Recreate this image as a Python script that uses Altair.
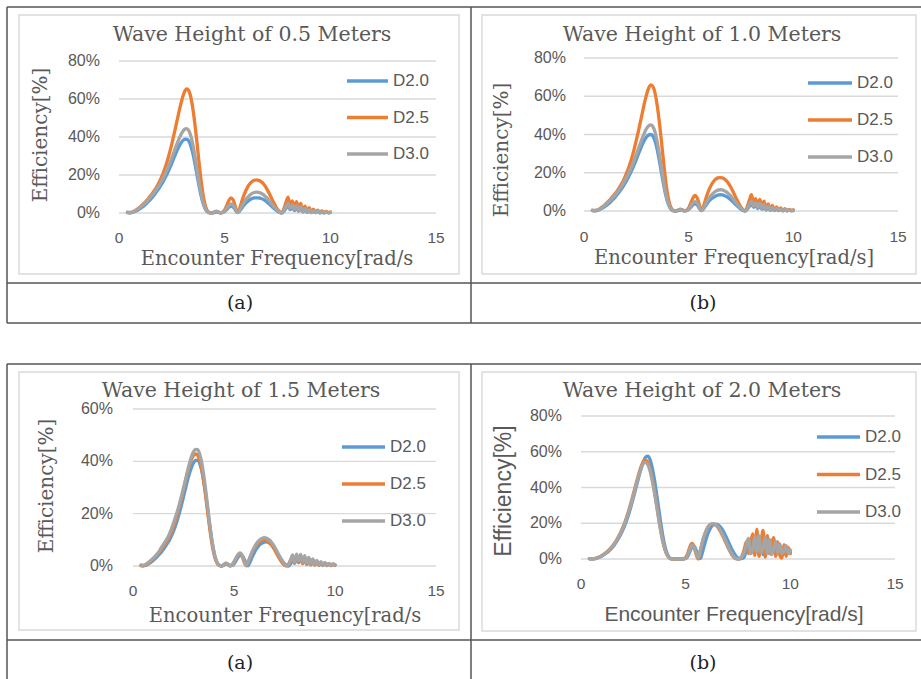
import altair as alt
import pandas as pd

# ---------------- data ----------------
SERIES = ["D2.0", "D2.5", "D3.0"]
COLORS = ["#5B9BD5", "#ED7D31", "#A5A5A5"]

FREQ = [0.4, 0.5, 0.6, 0.7, 0.8, 0.9, 1.0, 1.1, 1.2, 1.3,
        1.4, 1.5, 1.6, 1.7, 1.8, 1.9, 2.0, 2.1, 2.2, 2.3,
        2.4, 2.5, 2.6, 2.7, 2.8, 2.9, 3.0, 3.1, 3.2, 3.3,
        3.4, 3.5, 3.6, 3.7, 3.8, 3.9, 4.0, 4.1, 4.2, 4.3,
        4.4, 4.5, 4.6, 4.7, 4.8, 4.9, 5.0, 5.1, 5.2, 5.3,
        5.4, 5.5, 5.6, 5.7, 5.8, 5.9, 6.0, 6.1, 6.2, 6.3,
        6.4, 6.5, 6.6, 6.7, 6.8, 6.9, 7.0, 7.1, 7.2, 7.3,
        7.4, 7.5, 7.6, 7.7, 7.8, 7.9, 8.0, 8.1, 8.2, 8.3,
        8.4, 8.5, 8.6, 8.7, 8.8, 8.9, 9.0, 9.1, 9.2, 9.3,
        9.4, 9.5, 9.6, 9.7, 9.8, 9.9, 10.0]

# Wave height 0.5 m (efficiency, %)
H05_D20 = [0.2, 0.1, 0.2, 0.5, 1.0, 1.6, 2.3, 3.1, 4.0, 5.0,
           6.1, 7.3, 8.6, 10.0, 11.5, 13.1, 14.9, 16.8, 18.9, 21.2,
           23.7, 26.3, 29.0, 31.7, 34.2, 36.3, 37.9, 38.8, 38.9, 37.9,
           35.3, 31.1, 25.6, 19.5, 13.5, 8.3, 4.3, 1.7, 0.5, 0.1,
           0.0, 0.2, 0.5, 0.3, 0.1, 0.2, 0.8, 1.8, 3.0, 3.6,
           3.2, 1.6, 0.2, 0.9, 2.4, 3.9, 5.2, 6.2, 7.0, 7.6,
           7.9, 8.0, 8.0, 7.7, 7.3, 6.6, 5.8, 4.8, 3.8, 2.7,
           1.7, 0.9, 0.3, 0.0, 0.9, 2.4, 3.6, 1.8, 2.9, 1.3,
           2.7, 0.9, 2.2, 0.5, 1.6, 0.3, 1.2, 0.2, 0.9, 0.2,
           0.7, 0.1, 0.5, 0.1, 0.4, 0.1, 0.2]
H05_D25 = [0.3, 0.2, 0.3, 0.8, 1.5, 2.3, 3.2, 4.2, 5.3, 6.5,
           7.8, 9.2, 10.7, 12.3, 14.1, 16.2, 18.6, 21.3, 24.4, 28.0,
           32.0, 36.4, 41.2, 46.2, 51.3, 56.2, 60.5, 63.8, 65.3, 64.4,
           60.8, 54.5, 46.0, 36.0, 25.5, 15.8, 8.2, 3.3, 0.9, 0.1,
           0.0, 0.5, 0.9, 0.5, 0.1, 0.4, 1.6, 4.0, 6.6, 8.0,
           7.0, 3.6, 0.3, 2.2, 5.8, 9.0, 11.7, 13.9, 15.5, 16.6,
           17.2, 17.4, 17.2, 16.7, 15.8, 14.4, 12.6, 10.5, 8.2, 5.9,
           3.8, 2.0, 0.7, 0.1, 2.2, 5.6, 8.4, 3.8, 6.4, 2.8,
           6.0, 1.9, 5.0, 1.0, 3.6, 0.5, 2.8, 0.4, 2.0, 0.3,
           1.5, 0.2, 1.1, 0.2, 0.8, 0.3, 0.5]
H05_D30 = [0.4, 0.3, 0.4, 0.8, 1.4, 2.1, 2.9, 3.8, 4.8, 5.9,
           7.1, 8.4, 9.8, 11.3, 12.9, 14.7, 16.6, 18.7, 21.0, 23.5,
           26.2, 29.1, 32.1, 35.1, 38.0, 40.6, 42.6, 44.0, 44.4, 43.4,
           40.5, 35.7, 29.4, 22.3, 15.4, 9.4, 4.9, 2.0, 0.6, 0.1,
           0.0, 0.5, 1.0, 0.6, 0.1, 0.3, 1.0, 2.4, 4.0, 4.8,
           4.2, 2.1, 0.2, 1.2, 3.3, 5.3, 7.0, 8.4, 9.5, 10.3,
           10.8, 11.0, 10.9, 10.5, 9.9, 9.0, 7.9, 6.6, 5.1, 3.7,
           2.4, 1.3, 0.5, 0.1, 1.3, 3.4, 5.0, 2.4, 4.3, 1.8,
           4.0, 1.2, 3.3, 0.6, 2.4, 0.4, 1.8, 0.3, 1.3, 0.2,
           1.0, 0.1, 0.7, 0.1, 0.5, 0.2, 0.3]

# Wave height 1.0 m
H10_D20 = [0.2, 0.1, 0.2, 0.5, 1.0, 1.6, 2.4, 3.2, 4.1, 5.1,
           6.2, 7.4, 8.8, 10.2, 11.7, 13.4, 15.2, 17.2, 19.4, 21.8,
           24.3, 27.0, 29.8, 32.5, 35.1, 37.3, 38.9, 39.8, 40.0, 39.0,
           36.3, 32.0, 26.3, 20.0, 13.9, 8.5, 4.4, 1.8, 0.5, 0.1,
           0.0, 0.2, 0.5, 0.3, 0.1, 0.2, 0.8, 1.9, 3.1, 3.7,
           3.3, 1.6, 0.2, 1.0, 2.6, 4.1, 5.5, 6.5, 7.3, 7.9,
           8.3, 8.5, 8.4, 8.1, 7.6, 6.9, 6.0, 5.0, 3.9, 2.8,
           1.8, 0.9, 0.3, 0.0, 1.0, 2.5, 3.7, 1.9, 3.0, 1.3,
           2.8, 0.9, 2.3, 0.5, 1.7, 0.3, 1.3, 0.2, 1.0, 0.2,
           0.7, 0.1, 0.5, 0.1, 0.4, 0.1, 0.2]
H10_D25 = [0.3, 0.2, 0.3, 0.8, 1.5, 2.3, 3.3, 4.3, 5.4, 6.6,
           7.9, 9.3, 10.8, 12.5, 14.3, 16.4, 18.9, 21.6, 24.8, 28.4,
           32.5, 37.0, 41.8, 46.9, 52.0, 57.0, 61.3, 64.6, 66.0, 65.0,
           61.3, 55.0, 46.5, 36.4, 25.8, 16.0, 8.3, 3.4, 0.9, 0.1,
           0.0, 0.5, 0.9, 0.5, 0.1, 0.4, 1.7, 4.1, 6.7, 8.1,
           7.1, 3.6, 0.3, 2.2, 5.8, 9.1, 11.8, 14.0, 15.6, 16.7,
           17.3, 17.5, 17.3, 16.8, 15.9, 14.5, 12.7, 10.6, 8.3, 6.0,
           3.9, 2.0, 0.7, 0.1, 2.3, 5.7, 8.5, 3.9, 6.5, 2.9,
           6.1, 2.0, 5.1, 1.0, 3.7, 0.5, 2.9, 0.4, 2.1, 0.3,
           1.6, 0.2, 1.2, 0.2, 0.9, 0.3, 0.6]
H10_D30 = [0.4, 0.3, 0.4, 0.8, 1.4, 2.1, 3.0, 3.9, 4.9, 6.0,
           7.2, 8.5, 9.9, 11.5, 13.1, 14.9, 16.9, 19.0, 21.3, 23.9,
           26.6, 29.6, 32.6, 35.6, 38.5, 41.2, 43.3, 44.6, 45.0, 44.0,
           41.0, 36.1, 29.7, 22.5, 15.6, 9.5, 5.0, 2.0, 0.6, 0.1,
           0.0, 0.5, 1.0, 0.6, 0.1, 0.3, 1.0, 2.5, 4.1, 4.9,
           4.3, 2.2, 0.2, 1.2, 3.4, 5.4, 7.1, 8.5, 9.6, 10.4,
           10.9, 11.1, 11.0, 10.6, 10.0, 9.1, 8.0, 6.7, 5.2, 3.8,
           2.5, 1.3, 0.5, 0.1, 1.4, 3.5, 5.1, 2.5, 4.4, 1.9,
           4.1, 1.3, 3.4, 0.6, 2.5, 0.4, 1.9, 0.3, 1.4, 0.2,
           1.1, 0.1, 0.8, 0.1, 0.6, 0.2, 0.4]

# Wave height 1.5 m
H15_D20 = [0.1, 0.1, 0.2, 0.5, 1.0, 1.5, 2.1, 2.8, 3.6, 4.4,
           5.3, 6.3, 7.4, 8.6, 9.9, 11.4, 13.2, 15.3, 17.7, 20.4,
           23.3, 26.4, 29.6, 32.7, 35.5, 37.8, 39.5, 40.4, 40.5, 39.2,
           36.5, 32.4, 27.2, 21.3, 15.4, 10.0, 5.6, 2.6, 0.9, 0.2,
           0.0, 0.3, 0.8, 0.6, 0.1, 0.2, 0.8, 2.0, 3.3, 4.1,
           4.0, 2.8, 1.0, 0.1, 1.6, 3.4, 5.0, 6.4, 7.5, 8.3,
           8.8, 9.1, 9.2, 9.0, 8.5, 7.8, 6.8, 5.6, 4.3, 3.0,
           1.8, 0.9, 0.3, 0.0, 0.8, 2.8, 1.0, 3.4, 1.2, 3.4,
           0.9, 3.0, 0.6, 2.5, 0.4, 2.0, 0.3, 1.6, 0.3, 1.3,
           0.2, 1.0, 0.2, 0.8, 0.2, 0.6, 0.3]
H15_D25 = [0.2, 0.1, 0.3, 0.7, 1.3, 1.9, 2.6, 3.4, 4.3, 5.2,
           6.3, 7.4, 8.6, 9.8, 11.2, 12.9, 14.9, 17.3, 20.0, 22.9,
           26.0, 29.2, 32.5, 35.7, 38.5, 40.8, 42.3, 42.8, 42.3, 40.4,
           37.1, 32.4, 26.6, 20.3, 14.2, 8.9, 4.8, 2.1, 0.6, 0.1,
           0.0, 0.6, 1.1, 0.6, 0.1, 0.5, 1.6, 3.0, 4.3, 4.8,
           3.8, 1.6, 0.1, 1.4, 3.4, 5.2, 6.7, 7.9, 8.8, 9.5,
           9.9, 10.0, 9.8, 9.3, 8.5, 7.5, 6.3, 4.9, 3.5, 2.2,
           1.1, 0.3, 0.0, 0.8, 2.3, 3.8, 1.2, 3.9, 1.6, 3.8,
           1.0, 3.5, 0.7, 2.9, 0.5, 2.4, 0.4, 1.9, 0.3, 1.5,
           0.3, 1.2, 0.2, 0.9, 0.2, 0.7, 0.4]
H15_D30 = [0.4, 0.3, 0.5, 1.0, 1.6, 2.3, 3.0, 3.8, 4.7, 5.7,
           7.0, 8.2, 9.4, 10.6, 12.2, 14.1, 16.3, 18.6, 21.0, 23.8,
           26.7, 29.8, 33.0, 36.3, 39.3, 41.9, 43.7, 44.6, 44.5, 42.8,
           39.6, 34.9, 29.0, 22.5, 16.0, 10.2, 5.6, 2.5, 0.8, 0.2,
           0.0, 0.4, 1.0, 0.8, 0.2, 0.4, 1.5, 3.0, 4.4, 5.0,
           4.2, 2.0, 0.3, 1.6, 3.6, 5.5, 7.1, 8.4, 9.4, 10.1,
           10.6, 10.8, 10.7, 10.3, 9.6, 8.6, 7.4, 6.0, 4.5, 3.1,
           1.8, 0.8, 0.2, 0.5, 2.0, 4.2, 1.5, 4.5, 2.0, 4.4,
           1.5, 4.0, 1.0, 3.3, 0.8, 2.7, 0.6, 2.1, 0.5, 1.7,
           0.4, 1.3, 0.3, 1.0, 0.3, 0.8, 0.5]

# Wave height 2.0 m
H20_D20 = [0.1, 0.1, 0.1, 0.3, 0.6, 1.1, 1.7, 2.4, 3.2, 4.1,
           5.2, 6.5, 8.0, 9.7, 11.6, 13.8, 16.3, 19.1, 22.3, 25.9,
           29.9, 34.2, 38.7, 43.2, 47.6, 51.6, 55.0, 57.2, 57.6, 55.6,
           51.3, 45.0, 37.4, 29.2, 21.0, 13.6, 7.6, 3.5, 1.2, 0.2,
           0.0, 0.0, 0.0, 0.0, 0.0, 0.0, 0.3, 1.5, 4.0, 6.5,
           7.2, 5.0, 1.8, 0.2, 3.6, 8.0, 12.0, 15.3, 17.6, 18.9,
           19.4, 19.3, 18.6, 17.3, 15.5, 13.2, 10.7, 8.1, 5.6, 3.4,
           1.7, 0.6, 0.1, 0.3, 1.2, 5.0, 9.5, 4.0, 12.0, 3.5,
           13.0, 4.5, 10.5, 2.5, 11.0, 3.5, 9.5, 2.5, 8.0, 4.0,
           7.0, 3.5, 6.0, 3.0, 5.5, 3.5, 4.0]
H20_D25 = [0.2, 0.1, 0.2, 0.4, 0.8, 1.3, 1.9, 2.7, 3.6, 4.6,
           5.8, 7.2, 8.8, 10.6, 12.7, 15.0, 17.7, 20.7, 24.1, 27.9,
           32.0, 36.4, 40.8, 45.1, 49.2, 52.6, 54.9, 55.3, 53.8, 50.2,
           45.0, 38.5, 31.2, 23.6, 16.4, 10.3, 5.6, 2.5, 0.8, 0.1,
           0.0, 0.0, 0.0, 0.0, 0.0, 0.2, 0.9, 3.2, 6.8, 8.7,
           7.0, 2.5, 0.0, 4.6, 9.4, 13.4, 16.4, 18.4, 19.4, 19.6,
           19.2, 18.2, 16.6, 14.6, 12.2, 9.6, 7.0, 4.6, 2.5, 1.0,
           0.2, 0.0, 0.4, 2.0, 5.5, 9.5, 3.0, 8.0, 14.0, 2.0,
           16.5, 1.5, 9.0, 16.0, 1.0, 13.0, 3.0, 8.0, 12.0, 1.5,
           9.5, 2.0, 0.5, 8.0, 1.5, 6.5, 3.0]
H20_D30 = [0.2, 0.1, 0.2, 0.4, 0.8, 1.3, 1.9, 2.6, 3.4, 4.4,
           5.6, 7.0, 8.6, 10.4, 12.4, 14.7, 17.3, 20.2, 23.5, 27.2,
           31.2, 35.5, 39.9, 44.2, 48.2, 51.5, 53.7, 54.1, 52.6, 49.2,
           44.2, 37.9, 30.8, 23.4, 16.4, 10.4, 5.8, 2.7, 0.9, 0.2,
           0.0, 0.0, 0.0, 0.0, 0.0, 0.1, 0.5, 2.2, 5.2, 7.8,
           6.8, 3.0, 0.8, 5.0, 9.5, 13.4, 16.4, 18.4, 19.5, 19.8,
           19.5, 18.6, 17.1, 15.2, 12.9, 10.3, 7.7, 5.2, 3.0, 1.3,
           0.4, 0.0, 0.3, 1.5, 4.0, 8.0, 11.5, 3.0, 5.0, 12.5,
           4.0, 13.0, 3.5, 6.0, 12.0, 3.0, 11.0, 2.5, 5.0, 10.0,
           3.5, 8.5, 3.0, 4.5, 7.5, 3.0, 5.0]

PANEL_VALUES = [
    [H05_D20, H05_D25, H05_D30],
    [H10_D20, H10_D25, H10_D30],
    [H15_D20, H15_D25, H15_D30],
    [H20_D20, H20_D25, H20_D30],
]
PANEL_TITLES = ["Wave Height of 0.5 Meters", "Wave Height of 1.0 Meters",
                "Wave Height of 1.5 Meters", "Wave Height of 2.0  Meters"]
X_TITLES = ["Encounter Frequency[rad/s", "Encounter Frequency[rad/s]",
            "Encounter Frequency[rad/s", "Encounter Frequency[rad/s]"]
Y_TITLE = "Efficiency[%]"
X_TICKS = [0, 5, 10, 15]
Y_TICKS = [[0, 0.2, 0.4, 0.6, 0.8], [0, 0.2, 0.4, 0.6, 0.8],
           [0, 0.2, 0.4, 0.6], [0, 0.2, 0.4, 0.6, 0.8]]
Y_MAX = [0.8, 0.8, 0.6, 0.8]
CAPTIONS = ["(a)", "(b)", "(a)", "(b)"]

# ---------------- layout (pixels) ----------------
W, H = 921, 679
GRAY = "#595959"
SERIF = "DejaVu Serif"
SANS = "Liberation Sans"

LAYOUT = [
    dict(xr=[119, 436], yr=[213, 61], xly=238, ylx=100, xt=(277, 258.5), yt=(41, 135),
         tt=(252, 35), lgy=[81, 154], lgx=(347, 388, 393), fr=(19, 15, 459, 274), serif=True),
    dict(xr=[584, 898], yr=[211, 58], xly=237, ylx=566, xt=(734, 258), yt=(502, 150),
         tt=(702, 35), lgy=[83, 157], lgx=(808, 852, 857), fr=(482, 15, 916, 274), serif=True),
    dict(xr=[133, 436], yr=[566, 409], xly=591, ylx=113, xt=(285, 615.5), yt=(47, 486),
         tt=(241, 391), lgy=[447, 521], lgx=(342, 385, 390), fr=(19, 372, 459, 630), serif=True),
    dict(xr=[581, 895], yr=[559, 416], xly=584, ylx=562, xt=(734, 614.5), yt=(504, 491),
         tt=(702, 391), lgy=[437, 512], lgx=(817, 860, 865), fr=(482, 372, 916, 631), serif=False),
]
CAPTION_POS = [(240, 303), (703, 303), (240, 663), (703, 663)]

ONE = pd.DataFrame({"k": [0]})
color_scale = alt.Scale(domain=SERIES, range=COLORS)


def make_panel(i):
    lay = LAYOUT[i]
    vals = PANEL_VALUES[i]
    df = pd.DataFrame({
        "freq": FREQ * 3,
        "eff": [v / 100 for v in vals[0] + vals[1] + vals[2]],
        "series": [s for s in SERIES for _ in FREQ],
    })
    yt = Y_TICKS[i]
    grid_df = pd.DataFrame({"g": yt, "x0": [0] * len(yt), "x1": [15] * len(yt)})
    xs = alt.Scale(domain=[0, 15], range=lay["xr"], nice=False, zero=False)
    ys = alt.Scale(domain=[0, Y_MAX[i]], range=lay["yr"], nice=False, zero=False)
    tfont = SERIF if lay["serif"] else SANS
    xsize = 19.5 if lay["serif"] else 21
    ysize = 20 if lay["serif"] else 23

    grid = alt.Chart(grid_df).mark_rule(color="#D9D9D9", strokeWidth=1.4).encode(
        x=alt.X("x0:Q", scale=xs, axis=None),
        x2="x1:Q",
        y=alt.Y("g:Q", scale=ys, axis=None),
    )
    lines = alt.Chart(df).mark_line(strokeWidth=3.3, strokeCap="round",
                                    strokeJoin="round", interpolate="monotone").encode(
        x=alt.X("freq:Q", scale=xs, axis=None),
        y=alt.Y("eff:Q", scale=ys, axis=None),
        color=alt.Color("series:N", scale=color_scale, legend=None),
    )
    # tick labels placed through the panel's own scales
    xlab = alt.Chart(pd.DataFrame({"v": X_TICKS})).mark_text(
        font=SANS, fontSize=15.5, color=GRAY, align="center", baseline="middle").encode(
        x=alt.X("v:Q", scale=xs, axis=None), y=alt.value(lay["xly"]), text="v:Q")
    ylab = alt.Chart(pd.DataFrame({"v": yt})).transform_calculate(
        lab="format(datum.v, '.0%')").mark_text(
        font=SANS, fontSize=16, color=GRAY, align="right", baseline="middle").encode(
        y=alt.Y("v:Q", scale=ys, axis=None), x=alt.value(lay["ylx"]), text="lab:N")
    xtitle = alt.Chart(pd.DataFrame({"t": [X_TITLES[i]]})).mark_text(
        font=tfont, fontSize=xsize, color=GRAY, align="center", baseline="middle").encode(
        text="t:N", x=alt.value(lay["xt"][0]), y=alt.value(lay["xt"][1]))
    ytitle = alt.Chart(pd.DataFrame({"t": [Y_TITLE]})).mark_text(
        font=tfont, fontSize=ysize, color=GRAY, align="center", baseline="middle",
        angle=270).encode(
        text="t:N", x=alt.value(lay["yt"][0]), y=alt.value(lay["yt"][1]))
    return alt.layer(grid, lines, xlab, ylab, xtitle, ytitle)


def make_legend(i):
    lay = LAYOUT[i]
    ldf = pd.DataFrame({"series": SERIES})
    ysc = alt.Scale(type="point", domain=SERIES, range=lay["lgy"], padding=0)
    sw = alt.Chart(ldf).mark_rule(strokeWidth=3.3).encode(
        x=alt.value(lay["lgx"][0]), x2=alt.value(lay["lgx"][1]),
        y=alt.Y("series:N", scale=ysc, axis=None),
        color=alt.Color("series:N", scale=color_scale, legend=None),
    )
    tx = alt.Chart(ldf).mark_text(align="left", baseline="middle", font=SANS,
                                  fontSize=17, color=GRAY).encode(
        x=alt.value(lay["lgx"][2]),
        y=alt.Y("series:N", scale=ysc, axis=None),
        text="series:N",
    )
    return alt.layer(sw, tx)


def make_decor(i):
    lay = LAYOUT[i]
    x1, y1, x2, y2 = lay["fr"]
    frame = alt.Chart(ONE).mark_rect(fillOpacity=0, stroke="#D9D9D9", strokeWidth=1.4).encode(
        x=alt.value(x1), x2=alt.value(x2), y=alt.value(y1), y2=alt.value(y2))
    title = alt.Chart(pd.DataFrame({"t": [PANEL_TITLES[i]]})).mark_text(
        font=SERIF, fontSize=20.5, color=GRAY, align="center", baseline="middle").encode(
        text="t:N", x=alt.value(lay["tt"][0]), y=alt.value(lay["tt"][1]))
    cx, cy = CAPTION_POS[i]
    cap = alt.Chart(pd.DataFrame({"c": [CAPTIONS[i]]})).mark_text(
        font=SERIF, fontSize=19, color="#222222", align="center", baseline="middle").encode(
        text="c:N", x=alt.value(cx), y=alt.value(cy))
    return [frame, title, cap]


def hline(y, xa, xb):
    return alt.Chart(ONE).mark_rule(color="#555555", strokeWidth=1.5).encode(
        x=alt.value(xa), x2=alt.value(xb), y=alt.value(y))


def vline(x, ya, yb):
    return alt.Chart(ONE).mark_rule(color="#555555", strokeWidth=1.5).encode(
        x=alt.value(x), y=alt.value(ya), y2=alt.value(yb))


table = [
    hline(7, 7, 921), hline(283, 7, 921), hline(323, 7, 921),
    vline(7, 7, 323), vline(471, 7, 323),
    hline(364, 7, 921), hline(640, 7, 921),
    vline(7, 364, 679), vline(471, 364, 679),
]

layers = []
for i in range(4):
    layers.extend(make_decor(i))
for i in range(4):
    layers.append(make_panel(i))
    layers.append(make_legend(i))
layers.extend(table)

chart = alt.layer(*layers).resolve_scale(
    x="independent", y="independent"
).properties(
    width=W, height=H, autosize="none", padding=0, background="white"
).configure_view(stroke=None)

chart.save("out.html", embed_options={"renderer": "svg", "actions": False})
